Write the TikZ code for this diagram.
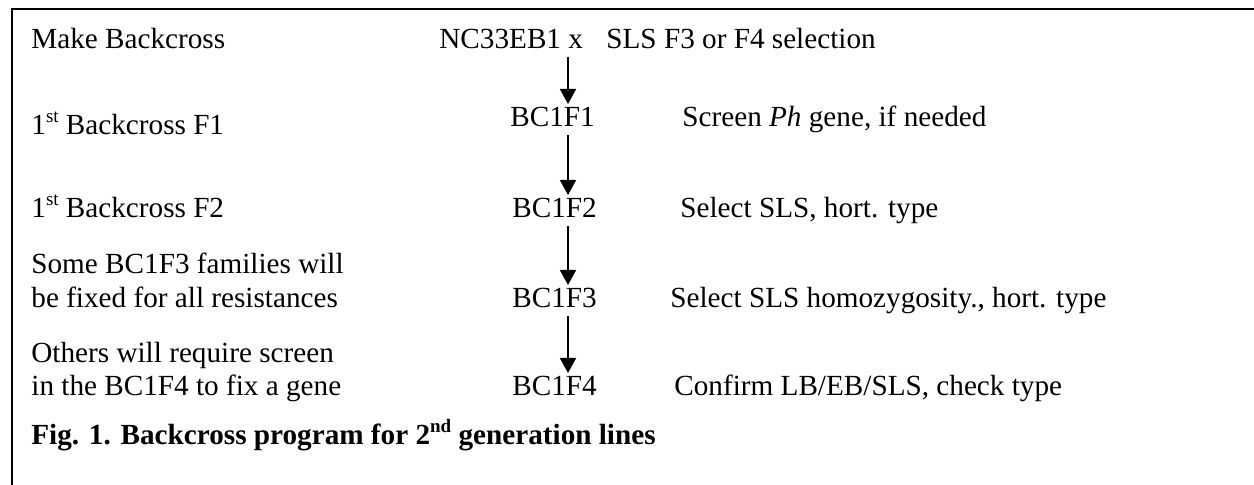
\documentclass[tikz,border=0pt]{standalone}
\usepackage{fontspec}
\setmainfont{Liberation Serif}
\usetikzlibrary{arrows.meta,calc}
\newcommand\wordsup[1]{\raisebox{0.42em}{\fontsize{9.5}{9.5}\selectfont #1}}

\begin{document}
\begin{tikzpicture}[x=0.5pt,y=0.5pt,yscale=-1,
    txt/.style={anchor=base west,inner sep=0pt,font=\fontsize{14.6}{17.5}\selectfont},
    flow/.style={line width=0.85pt,-{Triangle[width=8pt,length=7.5pt]}}]
  \useasboundingbox (0,0) rectangle (1254,485);
  % frame
  \draw[line width=1pt] (11.5,485) -- (11.5,9) -- (1254,9);

  % Text Node -- left column
  \node[txt] (lmake) at (31,49) {Make Backcross};
  \node[txt] (lf1) at (31,135) {1\wordsup{st} Backcross F1};
  \node[txt] (lf2) at (31,218) {1\wordsup{st} Backcross F2};
  \node[txt] (lf3a) at (31,274) {Some BC1F3 families will};
  \node[txt] (lf3b) at (31,308) {be fixed for all resistances};
  \node[txt] (lf4a) at (31,363) {Others will require screen};
  \node[txt] (lf4b) at (31,396) {in the BC1F4 to fix a gene};

  % Text Node -- generations
  \node[txt] (g0) at (439,49) {NC33EB1 x};
  \node[txt] (sls) at (606,49) {SLS F3 or F4 selection};
  \node[txt] (g1) at (510,127) {BC1F1};
  \node[txt] (g2) at (512,218) {BC1F2};
  \node[txt] (g3) at (512,308) {BC1F3};
  \node[txt] (g4) at (512,396) {BC1F4};

  % Text Node -- right column
  \node[txt] (r1) at (682,127) {Screen \textit{Ph} gene, if needed};
  \node[txt] (r2) at (680,218) {Select SLS, hort. type};
  \node[txt] (r3) at (670,308) {Select SLS homozygosity., hort. type};
  \node[txt] (r4) at (674,396) {Confirm LB/EB/SLS, check type};

  % Text Node -- caption
  \node[txt,font=\fontsize{14.6}{17.5}\selectfont\bfseries] (cap) at (31,445)
    {Fig. 1. Backcross program for 2\wordsup{nd} generation lines};

  % arrows
  \coordinate (acol) at (568,0);
  \draw[flow] ($(g0.base -| acol)+(0,8)$) -- ($(g1.base -| acol)+(0,-23)$);
  \draw[flow] ($(g1.base -| acol)+(0,8)$) -- ($(g2.base -| acol)+(0,-23)$);
  \draw[flow] ($(g2.base -| acol)+(0,8)$) -- ($(g3.base -| acol)+(0,-23)$);
  \draw[flow] ($(g3.base -| acol)+(0,8)$) -- ($(g4.base -| acol)+(0,-23)$);
\end{tikzpicture}
\end{document}
